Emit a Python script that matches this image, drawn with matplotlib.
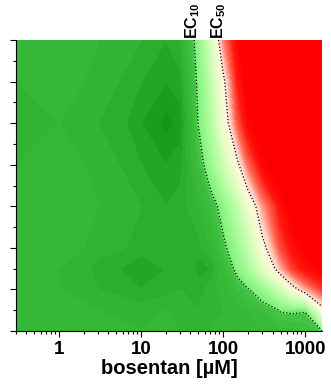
import numpy as np
import matplotlib
matplotlib.use("Agg")
import matplotlib.pyplot as plt
from matplotlib.colors import LinearSegmentedColormap, Normalize
from matplotlib.ticker import FixedLocator, NullFormatter, FixedFormatter

plt.rcParams['font.family'] = ['Liberation Sans', 'DejaVu Sans']
plt.rcParams['mathtext.fontset'] = 'custom'
plt.rcParams['mathtext.rm'] = 'Liberation Sans'
plt.rcParams['mathtext.bf'] = 'Liberation Sans:bold'

# bosentan concentrations (µM) along x
conc = [0.3, 1, 3, 10, 20, 30, 50, 70, 100, 150, 200, 300, 500, 700, 1000, 1600]
# second factor levels along y (unlabelled)
levels_y = [0, 0.5, 1, 1.5, 2, 3, 4, 5, 6, 7]

# effect (%) per y level, one row per entry of levels_y
eff_y0   = [2, 3, 4, 2, 3, 2, 1, 2, 3, 2, 3, 4, 5, 5, 6, 9.5]
eff_y0_5 = [2, 3, 2, 1, 2, 1, 0, 1, 2, 3, 4, 6, 10.5, 11, 10.5, 45]
eff_y1   = [3, 2, 0, -2, -1, 0, -1, 1, 3, 6, 9.5, 16, 30, 45, 58, 72]
eff_y1_5 = [3, 2, -1, -4, -2, 0, -3, -2, 4, 13, 20, 36, 58, 72, 82, 90]
eff_y2   = [4, 3, 1, -1, 0, -2, -1, 2, 8, 18, 27, 46, 70, 82, 90, 96]
eff_y3   = [3, 4, 2, 0, -2, -1, 2, 6, 14, 27, 40, 60, 82, 92, 97, 99]
eff_y4   = [2, 3, 1, -2, -4, -3, 6, 16, 30, 48, 65, 85, 96, 99, 100, 100]
eff_y5   = [1, 2, 0, -4, -7, -5, 10.5, 22, 42, 68, 85, 96, 99, 100, 100, 100]
eff_y6   = [2, 3, 1, -2, -4, -3, 12, 26, 47, 78, 92, 98, 100, 100, 100, 100]
eff_y7   = [3, 4, 2, 0, -2, 0, 14, 32, 62, 86, 95, 99, 100, 100, 100, 100]

contour_levels = [10, 50]
contour_names = [r'$\mathbf{EC_{10}}$', r'$\mathbf{EC_{50}}$']
contour_top_conc = [43, 88]

xtick_vals = [1, 10, 100, 1000]
xtick_labels = ['1', '10', '100', '1000']

effect = np.array([eff_y0, eff_y0_5, eff_y1, eff_y1_5, eff_y2,
                   eff_y3, eff_y4, eff_y5, eff_y6, eff_y7])
X, Y = np.meshgrid(conc, levels_y)

vmin, vmax = -10, 100
stops = [(-10, '#0c8c0c'), (-5, '#1c9e1c'), (0, '#32b232'), (5, '#3abb3a'),
         (9, '#44c444'), (11, '#80f27a'), (20, '#a6fb96'), (30, '#cafdb4'),
         (40, '#ecfcc8'), (47, '#fcf8d8'), (51, '#fff0e4'), (57, '#ffc4b4'),
         (66, '#ff6a58'), (78, '#ff1c12'), (88, '#ff0000'), (100, '#ff0000')]
cmap = LinearSegmentedColormap.from_list(
    'effect', [((v - vmin) / (vmax - vmin), c) for v, c in stops])

fig = plt.figure(figsize=(3.31, 3.88), dpi=100)
ax = fig.add_axes([16 / 331, 1 - 331 / 388, 306 / 331, 291 / 388])

filled = ax.contourf(X, Y, effect, levels=np.linspace(vmin, vmax, 56),
                     cmap=cmap, norm=Normalize(vmin, vmax), extend='both')
filled.set_edgecolor('face')
filled.set_linewidth(0.5)
ax.contour(X, Y, effect, levels=contour_levels, colors='k',
           linestyles=':', linewidths=0.9)

ax.set_xscale('log')
ax.set_xlim(0.3, 1600)
ax.set_ylim(0, 7)

ax.xaxis.set_major_locator(FixedLocator(xtick_vals))
ax.xaxis.set_major_formatter(FixedFormatter(xtick_labels))
ax.tick_params(axis='x', which='major', length=4, width=0.8, labelsize=13.5, pad=3)
ax.tick_params(axis='x', which='minor', length=2.5, width=0.8)
for lab in ax.get_xticklabels():
    lab.set_fontweight('bold')

ax.yaxis.set_major_locator(FixedLocator(np.arange(0, 7.01, 1)))
ax.yaxis.set_minor_locator(FixedLocator(np.arange(0.5, 7, 1)))
ax.yaxis.set_major_formatter(NullFormatter())
ax.tick_params(axis='y', which='major', length=4, width=0.8)
ax.tick_params(axis='y', which='minor', length=2.5, width=0.8)

for side in ('top', 'right'):
    ax.spines[side].set_visible(False)
for side in ('left', 'bottom'):
    ax.spines[side].set_linewidth(0.8)

ax.set_xlabel('bosentan [µM]', fontsize=14.5, fontweight='bold', labelpad=1)

for c, name in zip(contour_top_conc, contour_names):
    ax.text(c, 1.005, name, transform=ax.get_xaxis_transform(), rotation=90,
            ha='center', va='bottom', fontsize=11.5)

fig.savefig('out.png', dpi=100)
